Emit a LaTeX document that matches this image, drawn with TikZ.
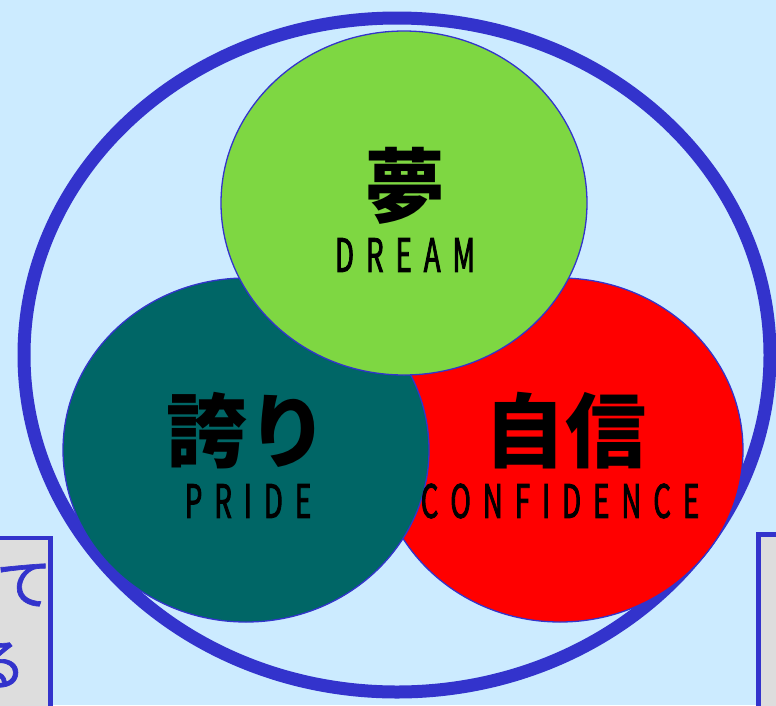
\documentclass[tikz,border=0pt]{standalone}
\usepackage{fontspec}
\usetikzlibrary{shapes.geometric}
\newfontfamily\jp{Noto Sans CJK JP}
\newfontfamily\jpside[FakeBold=1.2]{Noto Sans CJK JP}
\newfontfamily\lat[FakeStretch=0.6,FakeBold=1.8]{Noto Sans CJK JP}
\definecolor{bgblue}{HTML}{CCEBFF}
\definecolor{ringblue}{HTML}{3333CC}
\definecolor{dreamgreen}{HTML}{7ED742}
\definecolor{prideteal}{HTML}{006666}
\definecolor{confred}{HTML}{FF0000}
\definecolor{boxgrey}{HTML}{DDDDDD}
\tikzset{
  circ/.style={ellipse, draw=ringblue, line width=1.3pt, inner sep=0pt, minimum width=366pt, minimum height=344pt},
  kanji/.style={font=\jp\bfseries\fontsize{81}{81}\selectfont, text=black, inner sep=0pt},
  latin/.style={font=\lat\fontsize{46}{46}\selectfont, text=black, inner sep=0pt},
  sidebox/.style={draw=ringblue, line width=4.5pt, fill=boxgrey},
  sidetext/.style={font=\jpside\fontsize{56}{56}\selectfont, text=ringblue, inner sep=0pt}
}
\newcommand\lk{\kern12pt}
\begin{document}
\begin{tikzpicture}[x=1pt,y=-1pt]
\useasboundingbox (0,0) rectangle (776,705);
\clip (0,0) rectangle (776,705);
\fill[bgblue] (0,0) rectangle (776,705);
% side boxes
\node[sidebox, minimum width=80pt, minimum height=200pt, anchor=north east] (lbox) at (52.5,535.5) {};
\node[sidebox, minimum width=80pt, minimum height=200pt, anchor=north west] (rbox) at (756,532) {};
\node[sidetext] (te) at (24,585) {て};
\node[sidetext] (ru) at (-2,665) {る};
% big ring
\node[ellipse, draw=ringblue, line width=13pt, inner sep=0pt, minimum width=746pt, minimum height=674pt] (ring) at (397,355) {};
% circles
\node[circ, fill=confred] (conf) at (560,450) {};
\node[circ, fill=prideteal] (pride) at (246,450) {};
\node[circ, fill=dreamgreen] (dream) at (404,203) {};
% labels
\node[kanji] (yume) at (405,186) {夢};
\node[latin] (dreamtxt) at (405,255) {D\lk R\lk E\lk A\lk M};
\node[kanji] (hokori) at (247,431) {誇り};
\node[latin] (pridetxt) at (248,501) {P\lk R\lk I\lk D\lk E};
\node[kanji] (jishin) at (565,431) {自信};
\node[latin] (conftxt) at (560,501) {C\lk O\lk N\lk F\lk I\lk D\lk E\lk N\lk C\lk E};
\end{tikzpicture}
\end{document}
